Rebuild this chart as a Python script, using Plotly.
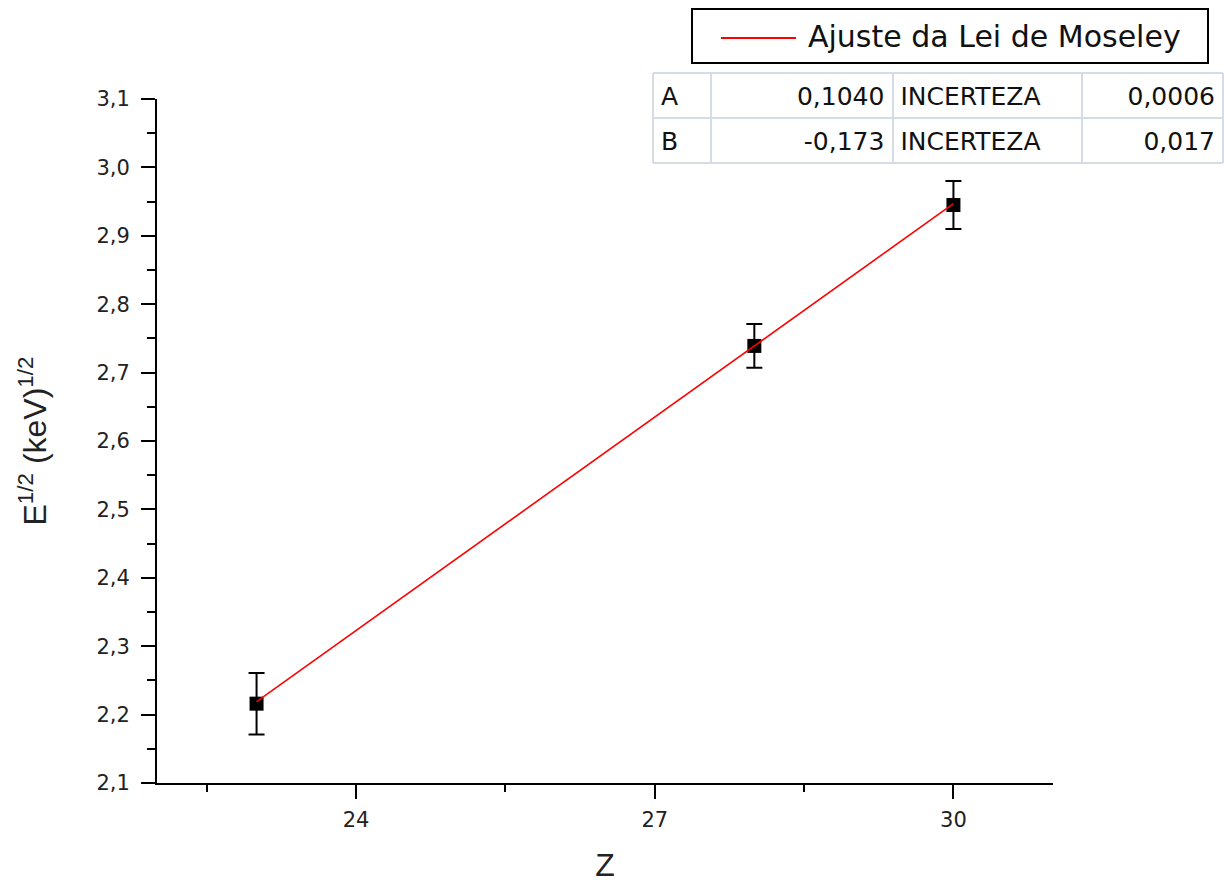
import plotly.graph_objects as go

# ---- data ----
Z = [23, 28, 30]
E_sqrt = [2.216, 2.739, 2.945]
E_err = [0.045, 0.032, 0.035]

fit_A = 0.1040
fit_B = -0.173
fit_A_unc = 0.0006
fit_B_unc = 0.017
fit_Z = [23, 30]

param_names = ["A", "B"]
param_values = ["0,1040", "-0,173"]
param_unc_label = ["INCERTEZA", "INCERTEZA"]
param_unc = ["0,0006", "0,017"]

legend_name = "Ajuste da Lei de Moseley"
x_title = "Z"
y_title = "E<sup>1/2</sup> (keV)<sup>1/2</sup>"

W, H = 1224, 883


def px(x):
    return x / W


def py(y):
    return 1 - y / H


fit_E = [fit_A * z + fit_B for z in fit_Z]

fig = go.Figure()

fig.add_trace(go.Scatter(
    x=Z, y=E_sqrt, mode="markers",
    marker=dict(symbol="square", size=14, color="black"),
    error_y=dict(type="data", array=E_err, visible=True, color="black",
                 thickness=2, width=8),
    showlegend=False,
))

fig.add_trace(go.Scatter(
    x=fit_Z, y=fit_E, mode="lines",
    line=dict(color="#ff0000", width=1.6),
    name=legend_name, showlegend=False,
))

cell_font = dict(family="DejaVu Sans", size=25, color="#111")
grid_color = "#d6dce6"
no_line = dict(color="rgba(0,0,0,0)", width=0)
fig.add_trace(go.Table(
    domain=dict(x=[px(653), px(1223)], y=[py(169), py(78)]),
    columnwidth=[58, 181, 189, 141],
    header=dict(
        values=[param_names[0], param_values[0], param_unc_label[0], param_unc[0]],
        align=["left", "right", "left", "right"],
        height=45, font=cell_font, fill_color="white", line=no_line,
    ),
    cells=dict(
        values=[[param_names[1]], [param_values[1]], [param_unc_label[1]], [param_unc[1]]],
        align=["left", "right", "left", "right"],
        height=45, font=cell_font, fill_color="white", line=no_line,
    ),
))

# table grid lines
for yy in [73, 118, 163]:
    fig.add_shape(type="line", xref="paper", yref="paper",
                  x0=px(653), x1=px(1223), y0=py(yy), y1=py(yy),
                  line=dict(color=grid_color, width=2))
for xx in [653, 711, 893, 1082, 1223]:
    fig.add_shape(type="line", xref="paper", yref="paper",
                  x0=px(xx), x1=px(xx), y0=py(73), y1=py(163),
                  line=dict(color=grid_color, width=2))

axis_common = dict(
    showline=True, linecolor="black", linewidth=2,
    ticks="outside", ticklen=14, tickwidth=2, tickcolor="black",
    showgrid=False, zeroline=False, automargin=False,
    tickfont=dict(family="DejaVu Sans", size=21, color="#222"),
)

fig.update_layout(
    width=W, height=H,
    margin=dict(l=0, r=0, t=0, b=0, autoexpand=False),
    paper_bgcolor="white", plot_bgcolor="white",
    separators=",.",
    showlegend=False,
    xaxis=dict(
        domain=[px(157), px(1053)], range=[22, 31],
        tick0=0, dtick=3, ticklabelstandoff=3,
        minor=dict(tick0=0, dtick=1.5, ticks="outside", ticklen=7,
                   tickwidth=2, tickcolor="black", showgrid=False),
        title=dict(text=x_title, font=dict(family="Liberation Sans", size=32, color="#222"),
                   standoff=28),
        **axis_common,
    ),
    yaxis=dict(
        domain=[py(783), py(99)], range=[2.1, 3.1],
        tick0=2.1, dtick=0.1, tickformat=".1f", ticklabelstandoff=7,
        minor=dict(dtick=0.05, ticks="outside", ticklen=8,
                   tickwidth=2, tickcolor="black", showgrid=False),
        title=dict(text=y_title, font=dict(family="Liberation Sans", size=32, color="#222"),
                   standoff=40),
        **axis_common,
    ),
)

# legend box (drawn manually to match the long sample line)
fig.add_shape(type="rect", xref="paper", yref="paper",
              x0=px(692), x1=px(1208), y0=py(63), y1=py(9),
              line=dict(color="black", width=2), fillcolor="white")
fig.add_shape(type="line", xref="paper", yref="paper",
              x0=px(721), x1=px(796), y0=py(38), y1=py(38),
              line=dict(color="#ff0000", width=2))
fig.add_annotation(xref="paper", yref="paper", x=px(806), y=py(37),
                   xanchor="left", yanchor="middle", showarrow=False,
                   text=legend_name,
                   font=dict(family="DejaVu Sans", size=30, color="#111"))

fig.write_html("out.html")
